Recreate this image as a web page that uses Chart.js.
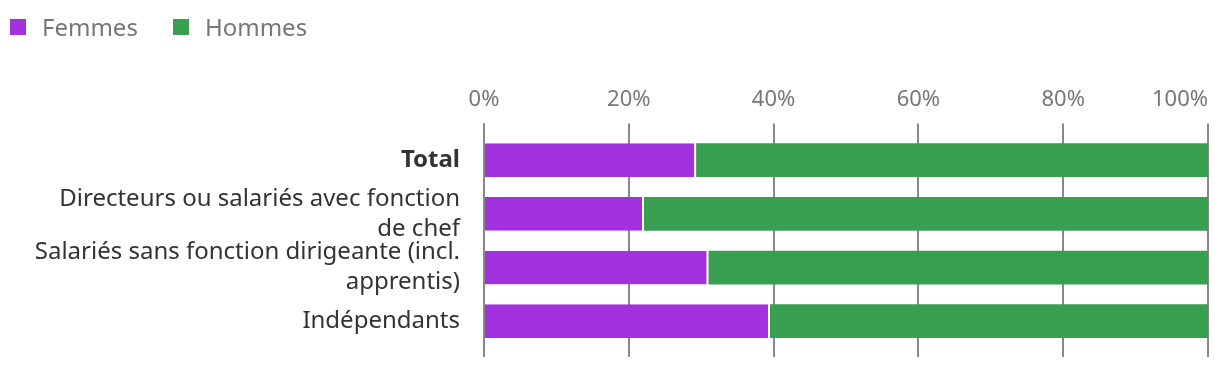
<!DOCTYPE html>
<html>
<head>
<meta charset="utf-8">
<script src="https://cdn.jsdelivr.net/npm/chart.js@4.4.1/dist/chart.umd.min.js"></script>
<style>
  body { margin: 0; background: #fff; }
  #wrap { position: relative; width: 1220px; height: 368px; }
  #legend {
    position: absolute; left: 10px; top: 13px;
    display: flex;
    font-family: "Noto Sans", "Open Sans", sans-serif;
    font-size: 24px; line-height: 1.2; color: #777;
  }
  #legend .item { display: flex; align-items: center; margin-right: 35px; }
  #legend .box { width: 16px; height: 16px; margin-right: 16px; }
</style>
</head>
<body>
<div id="wrap">
  <canvas id="chart"></canvas>
  <div id="legend"></div>
</div>
<script>
// Categories (multi-line labels as arrays)
const categories = [
    'Total',
    ['Directeurs ou salariés avec fonction', 'de chef'],
    ['Salariés sans fonction dirigeante (incl.', 'apprentis)'],
    'Indépendants'
];

// Shares in percent
const femmes = [29.3, 22.1, 31.0, 39.5];
const hommes = [70.7, 77.9, 69.0, 60.5];

const xTicks = [0, 20, 40, 60, 80, 100];

const PURPLE = '#a232de';
const GREEN = '#389e50';
const GRID = '#888888';

Chart.defaults.font.family = '"Noto Sans", "Open Sans", sans-serif';

// first tick is a blank duplicate of 0 so that 'inner' alignment only
// pushes the 100% label inside and keeps 0% centred
const buildTicks = (scale) => {
    scale.ticks = [{ value: 0 }].concat(xTicks.map(v => ({ value: v })));
};

const ctx = document.getElementById('chart').getContext('2d');

const chart = new Chart(ctx, {
    type: 'bar',
    data: {
        labels: categories,
        datasets: [
            {
                label: 'Femmes',
                data: femmes,
                backgroundColor: PURPLE,
                borderColor: '#ffffff',
                borderWidth: { top: 0, bottom: 0, left: 0, right: 2 },
                borderSkipped: false
            },
            {
                label: 'Hommes',
                data: hommes,
                backgroundColor: GREEN,
                borderWidth: 0
            }
        ]
    },
    options: {
        indexAxis: 'y',
        responsive: true,
        maintainAspectRatio: false,
        animation: false,
        layout: {
            padding: { top: 77, right: 12, bottom: 11, left: 0 }
        },
        datasets: {
            bar: {
                categoryPercentage: 1,
                barPercentage: 0.63
            }
        },
        scales: {
            x: {
                position: 'top',
                stacked: true,
                min: 0,
                max: 100,
                afterBuildTicks: buildTicks,
                border: { display: false },
                grid: {
                    color: GRID,
                    lineWidth: 2,
                    tickLength: 10
                },
                ticks: {
                    align: 'inner',
                    padding: 10,
                    color: '#777777',
                    font: { size: 22 },
                    callback: (value, i) => (i === 0 ? '' : `${value}%`)
                }
            },
            x2: {
                position: 'bottom',
                min: 0,
                max: 100,
                afterBuildTicks: buildTicks,
                border: { display: false },
                grid: {
                    color: GRID,
                    lineWidth: 2,
                    tickLength: 9,
                    drawOnChartArea: false
                },
                ticks: { display: false }
            },
            y: {
                stacked: true,
                afterFit: (scale) => {
                    scale.width = 484;
                },
                border: { display: false },
                grid: { display: false, drawTicks: true, tickLength: 24 },
                ticks: {
                    autoSkip: false,
                    padding: 0,
                    color: '#333333',
                    font: (c) => ({
                        size: 24,
                        lineHeight: 1.25,
                        weight: c.index === 0 ? 'bold' : 'normal'
                    })
                }
            }
        },
        plugins: {
            legend: { display: false },
            tooltip: { enabled: false }
        }
    }
});

// HTML legend built from the chart's datasets
const legendEl = document.getElementById('legend');
chart.data.datasets.forEach(ds => {
    const item = document.createElement('div');
    item.className = 'item';
    const box = document.createElement('span');
    box.className = 'box';
    box.style.background = ds.backgroundColor;
    const text = document.createElement('span');
    text.textContent = ds.label;
    item.appendChild(box);
    item.appendChild(text);
    legendEl.appendChild(item);
});
</script>
</body>
</html>
